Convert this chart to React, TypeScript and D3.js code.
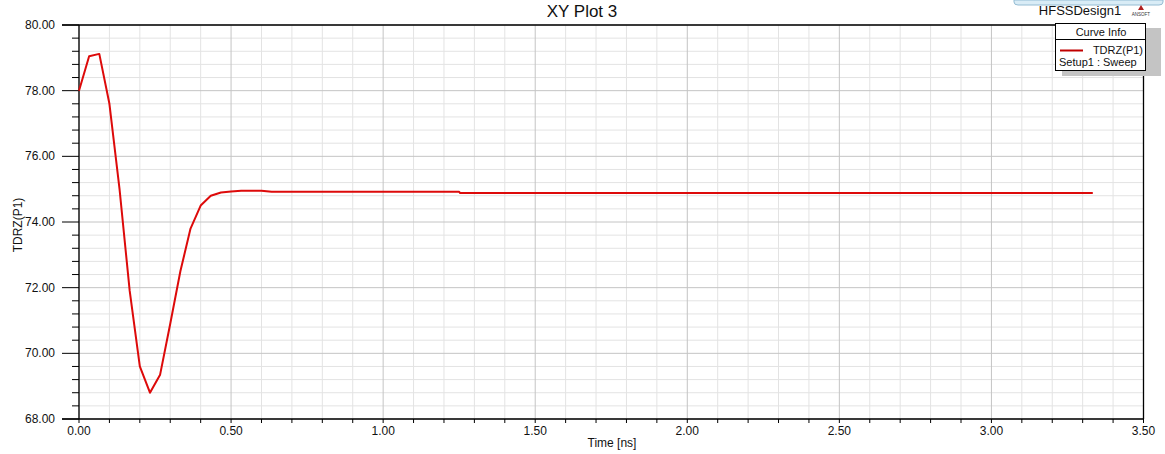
import React from "react";
import * as d3 from "d3";

const W = 1165;
const H = 454;

const timeNs = [0, 0.0333, 0.0667, 0.1, 0.1333, 0.1667, 0.2, 0.2333, 0.2667, 0.3, 0.3333, 0.3667, 0.4, 0.4333, 0.4667, 0.5, 0.5333, 0.6, 0.6333, 1.25, 1.2533, 3.3333];
const tdrz = [78.0, 79.05, 79.12, 77.6, 75.0, 71.9, 69.6, 68.8, 69.35, 70.9, 72.5, 73.8, 74.5, 74.8, 74.9, 74.93, 74.95, 74.95, 74.92, 74.92, 74.88, 74.88];

const xMajorTicks = [0, 0.5, 1.0, 1.5, 2.0, 2.5, 3.0, 3.5];
const xMinorTicks = d3.range(0, 35.5, 1).map((d) => d / 10);
const yMajorTicks = [68, 70, 72, 74, 76, 78, 80];
const yMinorTicks = d3.range(0, 30.5, 1).map((d) => 68 + d * 0.4);

const L = 79, R = 1143.5, T = 25, B = 419;

export default function App() {
  const x = d3.scaleLinear().domain([0, 3.5]).range([L, R]);
  const y = d3.scaleLinear().domain([68, 80]).range([B, T]);
  const line = d3
    .line<number>()
    .x((_, i) => x(timeNs[i]))
    .y((d) => y(d));
  const font = "'Liberation Sans', Arial, sans-serif";
  const narrow = "'Liberation Sans Narrow', 'Liberation Sans', Arial, sans-serif";
  const isMajorX = (v: number) => xMajorTicks.some((m) => Math.abs(m - v) < 1e-6);
  const isMajorY = (v: number) => yMajorTicks.some((m) => Math.abs(m - v) < 1e-6);

  return (
    <svg width={W} height={H} style={{ position: "absolute", left: 0, top: 0, background: "#fff" }}>
      <rect x={0} y={0} width={W} height={H} fill="#fff" />
      {/* minor grid */}
      {xMinorTicks.filter((v) => !isMajorX(v)).map((v) => (
        <line key={"xm" + v} x1={x(v)} x2={x(v)} y1={T} y2={B} stroke="#e3e3e3" strokeWidth={1} />
      ))}
      {yMinorTicks.filter((v) => !isMajorY(v)).map((v) => (
        <line key={"ym" + v} x1={L} x2={R} y1={y(v)} y2={y(v)} stroke="#e3e3e3" strokeWidth={1} />
      ))}
      {/* major grid */}
      {xMajorTicks.map((v) => (
        <line key={"xM" + v} x1={x(v)} x2={x(v)} y1={T} y2={B} stroke="#c4c4c4" strokeWidth={1} />
      ))}
      {yMajorTicks.map((v) => (
        <line key={"yM" + v} x1={L} x2={R} y1={y(v)} y2={y(v)} stroke="#c4c4c4" strokeWidth={1} />
      ))}
      {/* frame */}
      <line x1={62} x2={R} y1={T} y2={T} stroke="#000" strokeWidth={1.3} />
      <line x1={62} x2={R} y1={B} y2={B} stroke="#000" strokeWidth={1.3} />
      <line x1={L} x2={L} y1={T} y2={B} stroke="#000" strokeWidth={1.3} />
      <line x1={R} x2={R} y1={T} y2={B} stroke="#000" strokeWidth={1.3} />
      {/* y ticks */}
      {yMinorTicks.map((v) => (
        <line key={"yt" + v} x1={isMajorY(v) ? 62 : 72} x2={L} y1={y(v)} y2={y(v)} stroke="#000" strokeWidth={1} />
      ))}
      {yMajorTicks.map((v) => (
        <text key={"yl" + v} x={55} y={y(v) + 4} textAnchor="end" fontFamily={font} fontSize={12} fill="#111">
          {v.toFixed(2)}
        </text>
      ))}
      {/* x ticks */}
      {xMinorTicks.map((v) => (
        <line key={"xt" + v} x1={x(v)} x2={x(v)} y1={B} y2={B + 4} stroke="#000" strokeWidth={1} />
      ))}
      {xMajorTicks.map((v) => (
        <text key={"xl" + v} x={x(v)} y={435} textAnchor="middle" fontFamily={v >= 1.5 ? narrow : font} fontSize={12} fill="#111">
          {v.toFixed(2)}
        </text>
      ))}
      {/* axis labels */}
      <text x={612} y={447} textAnchor="middle" fontFamily={narrow} fontSize={12} fill="#111">Time [ns]</text>
      <text transform={`translate(22,225) rotate(-90)`} textAnchor="middle" fontFamily={font} fontSize={12} fill="#111">TDRZ(P1)</text>
      {/* title */}
      <text x={582} y={17} textAnchor="middle" fontFamily={font} fontSize={17} fill="#111">XY Plot 3</text>
      {/* curve */}
      <path d={line(tdrz) || ""} fill="none" stroke="#dd0a0a" strokeWidth={2} strokeLinejoin="round" />
      {/* top-right header */}
      <path d="M1014,0 L1014,2 Q1014,5 1018,5 L1159,5 Q1163,5 1163,2 L1163,0 Z" fill="#d9ecf6" stroke="#94bcd3" strokeWidth={1} />
      <text x={1080} y={15} textAnchor="middle" fontFamily={font} fontSize={13} fill="#111">HFSSDesign1</text>
      <path d="M1141,5 L1144,10 L1138,10 Z" fill="#b02020" />
      <text x={1141} y={16} textAnchor="middle" fontFamily={font} fontSize={4.5} fill="#333">ANSOFT</text>
      {/* legend */}
      <rect x={1062} y={28} width={99} height={48} fill="#c4c4c4" />
      <rect x={1055.5} y={23.5} width={90} height={47} fill="#fff" stroke="#000" strokeWidth={1} />
      <line x1={1055.5} x2={1145.5} y1={39.5} y2={39.5} stroke="#000" strokeWidth={1} />
      <text x={1101} y={36} textAnchor="middle" fontFamily={font} fontSize={11} fill="#111">Curve Info</text>
      <line x1={1060} x2={1083} y1={50.5} y2={50.5} stroke="#c00000" strokeWidth={2} />
      <text x={1143} y={54} textAnchor="end" fontFamily={font} fontSize={11} fill="#111">TDRZ(P1)</text>
      <text x={1059} y={66} fontFamily={font} fontSize={11} fill="#111">Setup1 : Sweep</text>
    </svg>
  );
}
